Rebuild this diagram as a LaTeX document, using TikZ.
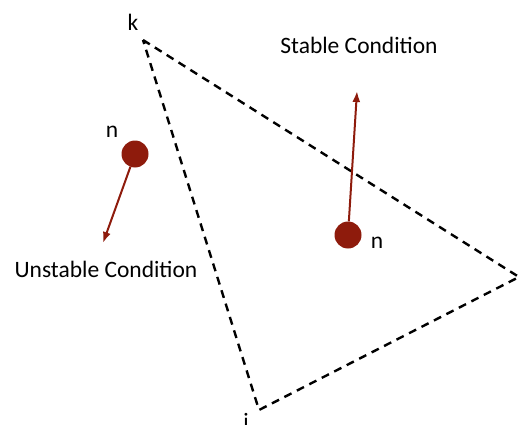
\documentclass[tikz,border=0pt]{standalone}
\usepackage{fontspec}
\setmainfont{Carlito}
\usetikzlibrary{arrows.meta}
\definecolor{dotred}{HTML}{8E1B0C}

\begin{document}
\begin{tikzpicture}[x=1pt,y=-1pt,
  edge/.style={draw=black,line width=2.4pt,dash pattern=on 8pt off 6pt},
  dot/.style={circle,fill=dotred,minimum size=27pt,inner sep=0pt},
  lbl/.style={font=\fontsize{23.5}{28}\selectfont,inner sep=0pt,anchor=base},
  force/.style={dotred,line width=2pt,-{Latex[length=11pt,width=8pt]}}
]
\useasboundingbox (0,0) rectangle (524,425);
% triangle corners
\coordinate (k) at (143,40);
\coordinate (j) at (519,277);
\coordinate (i) at (259,410);
\draw[edge] (k) -- (j) -- (i) -- cycle;
\node[lbl] (klbl) at (133,31) {k};
\node[lbl] (ilbl) at (246,429) {i};
% outside point
\node[dot] (nout) at (135,154) {};
\node[lbl] (noutlbl) at (112,137) {n};
\coordinate (uend) at (103,243);
\draw[force] (nout) -- (uend);
\node[lbl] (unstable) at (106,277) {Unstable Condition};
% inside point
\node[dot] (nin) at (348,235) {};
\node[lbl] (ninlbl) at (377,248) {n};
\coordinate (send) at (357,91);
\draw[force] (nin) -- (send);
\node[lbl] (stable) at (359,54) {Stable Condition};
\end{tikzpicture}
\end{document}
